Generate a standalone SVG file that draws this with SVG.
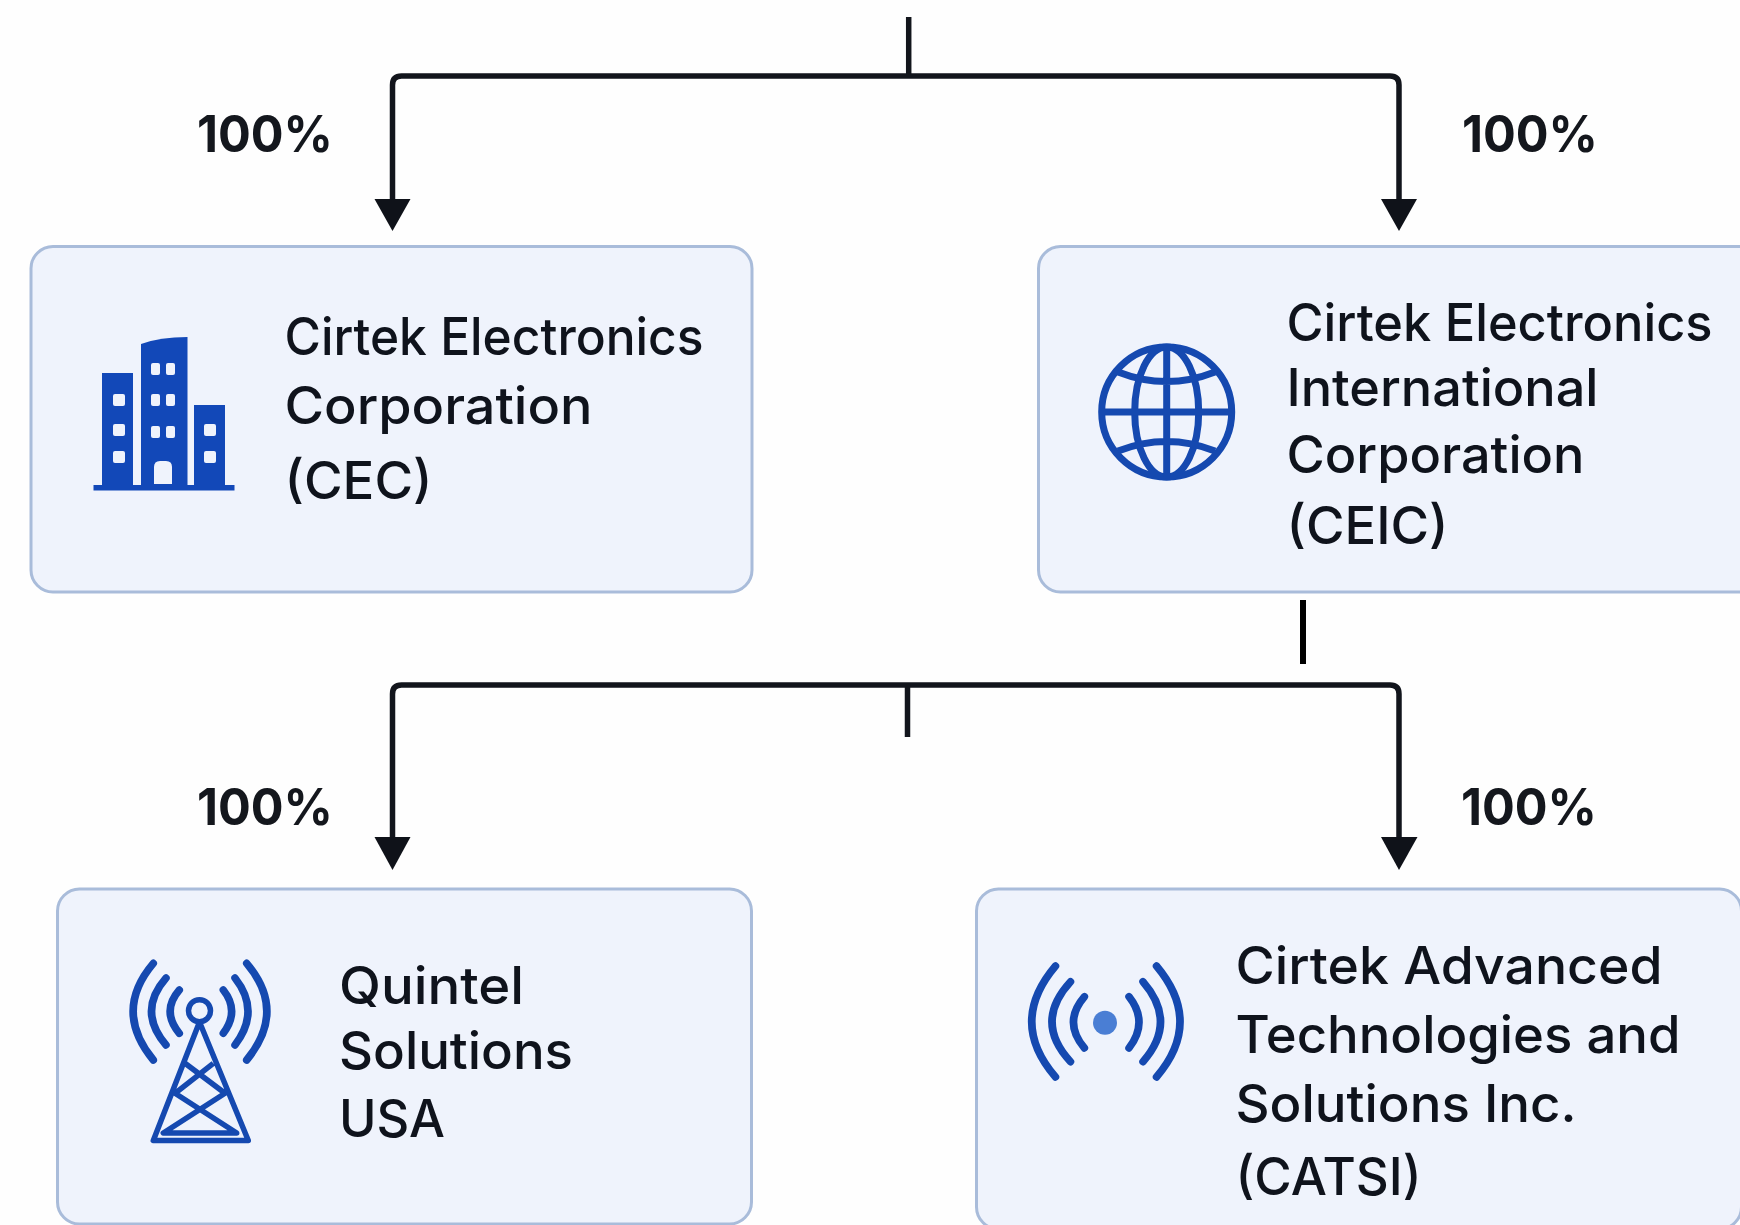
<svg xmlns="http://www.w3.org/2000/svg" width="1740" height="1225" viewBox="0 0 1740 1225">
<style>
.box{fill:#eff3fc;stroke:#a9bcda;stroke-width:3}
.name{font-family:"Inter","Liberation Sans",sans-serif;font-size:52px;font-weight:550;fill:#0f131c}
.pct{font-family:"Inter","Liberation Sans",sans-serif;font-size:51px;font-weight:700;fill:#14171d}
.line{fill:none;stroke:#12151c;stroke-width:5.5}
.head{fill:#0f1219}
.sig{fill:none;stroke:#1549b0;stroke-linecap:round;stroke-width:7.5}
.thin{fill:none;stroke:#1549b0;stroke-width:5.5;stroke-linejoin:round}
.solid{fill:#1248b8}
.win{fill:#eff3fc}
</style>
<rect width="1740" height="1225" fill="#fefefe"/>
<g id="connectors">
<path class="line" d="M908.7 17V76"/>
<path class="line" d="M392.500 199V85Q392.500 76 401.500 76H1390Q1399 76 1399 85V199"/>
<polygon class="head" points="374.500,199 410.500,199 392.500,231"/>
<polygon class="head" points="1381,199 1417,199 1399,231"/>
<path class="line" d="M1303 600V664" style="stroke:#000;stroke-width:6"/>
<path class="line" d="M392.500 837V694Q392.500 685 401.500 685H1390Q1399 685 1399 694V837"/>
<path class="line" d="M907.500 685V737"/>
<polygon class="head" points="374.500,837 410.500,837 392.500,870"/>
<polygon class="head" points="1381,837 1417.500,837 1399,870"/>
</g>
<g id="labels">
<text class="pct" x="197" y="152" textLength="136" lengthAdjust="spacingAndGlyphs">100%</text>
<text class="pct" x="1462" y="152" textLength="136" lengthAdjust="spacingAndGlyphs">100%</text>
<text class="pct" x="197" y="825" textLength="136" lengthAdjust="spacingAndGlyphs">100%</text>
<text class="pct" x="1461" y="825" textLength="136" lengthAdjust="spacingAndGlyphs">100%</text>
</g>
<g id="node-cec">
<rect class="box" x="31" y="246.500" width="721" height="345.500" rx="22"/>
<g>
<rect class="solid" x="93.500" y="485" width="141" height="5.500"/>
<rect class="solid" x="102" y="373" width="31" height="114"/>
<path class="solid" d="M141 487V344Q160 337 187.500 337V487Z"/>
<rect class="solid" x="194" y="405" width="31" height="82"/>
<g class="win">
<rect x="113" y="394" width="12" height="12" rx="2"/><rect x="113" y="424" width="12" height="12" rx="2"/><rect x="113" y="451" width="12" height="12" rx="2"/>
<rect x="151" y="363" width="9" height="12" rx="2"/><rect x="166" y="363" width="9" height="12" rx="2"/>
<rect x="151" y="394" width="9" height="12" rx="2"/><rect x="166" y="394" width="9" height="12" rx="2"/>
<rect x="151" y="426" width="9" height="12" rx="2"/><rect x="166" y="426" width="9" height="12" rx="2"/>
<path d="M154 484V467Q154 461 160 461H166Q172 461 172 467V484Z"/>
<rect x="204" y="424" width="12" height="12" rx="2"/><rect x="204" y="451" width="12" height="12" rx="2"/>
</g>
</g>
<text class="name" x="284.500" y="355" textLength="419" lengthAdjust="spacingAndGlyphs">Cirtek Electronics</text>
<text class="name" x="284.500" y="424" textLength="308" lengthAdjust="spacingAndGlyphs">Corporation</text>
<text class="name" x="284.500" y="499" textLength="148" lengthAdjust="spacingAndGlyphs">(CEC)</text>
</g>
<g id="node-ceic">
<rect class="box" x="1038.500" y="246.500" width="730" height="345.500" rx="22"/>
<g fill="none" stroke="#1549b0" stroke-width="7">
<circle cx="1166.700" cy="412" r="65"/>
<ellipse cx="1166.700" cy="412" rx="32" ry="65"/>
<path d="M1166.700 347V477M1102 412H1232M1118 372Q1166.700 391 1215 372M1118 451Q1166.700 432 1215 451"/>
</g>
<text class="name" x="1286.500" y="341" textLength="426" lengthAdjust="spacingAndGlyphs">Cirtek Electronics</text>
<text class="name" x="1286.500" y="406" textLength="312" lengthAdjust="spacingAndGlyphs">International</text>
<text class="name" x="1286.500" y="473" textLength="298" lengthAdjust="spacingAndGlyphs">Corporation</text>
<text class="name" x="1286.500" y="544" textLength="162" lengthAdjust="spacingAndGlyphs">(CEIC)</text>
</g>
<g id="node-quintel">
<rect class="box" x="57.500" y="889" width="694" height="335" rx="22"/>
<g>
<path class="sig" d="M153.300 963.300Q113 1011 153.300 1060M166 978Q137 1011 166 1045M179.300 990Q161 1011 179.300 1033.300M246.700 963.300Q287 1011 246.700 1060M235 978Q261 1011 235 1045M223.300 990Q240 1011 223.300 1033.300"/>
<circle class="thin" cx="199.500" cy="1010.700" r="11"/>
<path class="thin" d="M199.500 1022L153.300 1140.500H248.300L199.500 1022M185 1063.300L225 1093.300L163.300 1133H236.700L175 1093.300L213.300 1063.300"/>
</g>
<text class="name" x="339" y="1004" textLength="185" lengthAdjust="spacingAndGlyphs">Quintel</text>
<text class="name" x="339" y="1069" textLength="234" lengthAdjust="spacingAndGlyphs">Solutions</text>
<text class="name" x="339" y="1137" textLength="106" lengthAdjust="spacingAndGlyphs">USA</text>
</g>
<g id="node-catsi">
<rect class="box" x="976.500" y="889" width="765" height="340" rx="22"/>
<g>
<path class="sig" d="M1055.500 966Q1008 1022 1055.500 1077M1070.500 981.700Q1033.500 1022 1070.500 1061.700M1084.400 996.700Q1062.500 1022 1084.400 1048M1156.500 966Q1203.500 1022 1156.500 1077M1143 981.700Q1178 1022 1143 1061.700M1129 996.700Q1149 1022 1129 1048"/>
<circle cx="1105" cy="1022.700" r="12" fill="#4a7ed4"/>
</g>
<text class="name" x="1235.500" y="984" textLength="427" lengthAdjust="spacingAndGlyphs">Cirtek Advanced</text>
<text class="name" x="1235.500" y="1053" textLength="445" lengthAdjust="spacingAndGlyphs">Technologies and</text>
<text class="name" x="1235.500" y="1122" textLength="341" lengthAdjust="spacingAndGlyphs">Solutions Inc.</text>
<text class="name" x="1235.500" y="1195" textLength="186" lengthAdjust="spacingAndGlyphs">(CATSI)</text>
</g>
</svg>
